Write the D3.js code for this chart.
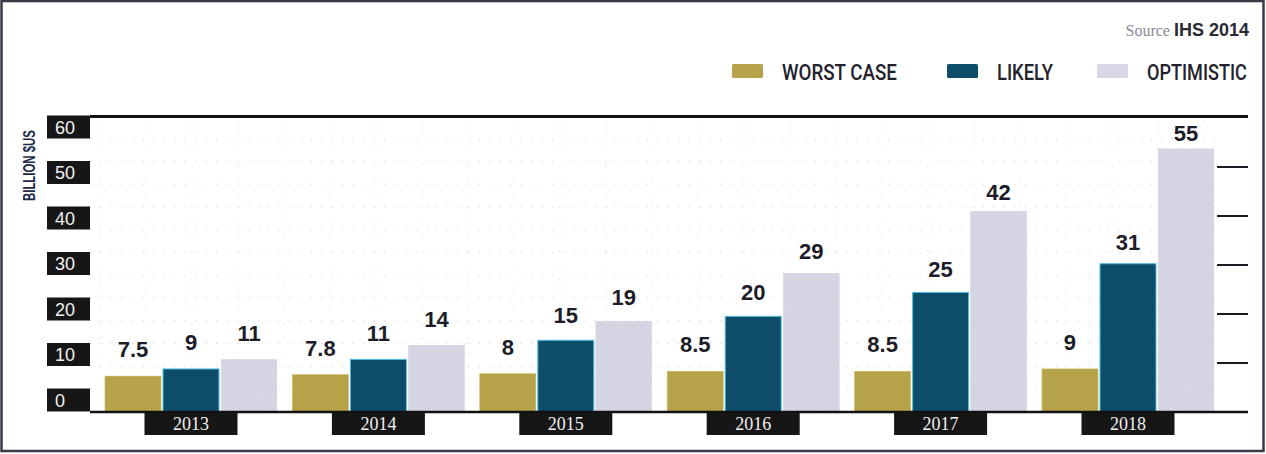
<!DOCTYPE html>
<html>
<head>
<meta charset="utf-8">
<script src="https://cdn.jsdelivr.net/npm/d3@7"></script>
<style>
  html, body { margin: 0; padding: 0; background: #ffffff; }
  svg { display: block; }
</style>
</head>
<body>
<svg id="chart" width="1266" height="454"></svg>
<script>
// Market size forecast, billion US$, by scenario
const years = ["2013", "2014", "2015", "2016", "2017", "2018"];
const seriesNames = ["WORST CASE", "LIKELY", "OPTIMISTIC"];
const worstCase = [7.5, 7.8, 8, 8.5, 8.5, 9];
const likely = [9, 11, 15, 20, 25, 31];
const optimistic = [11, 14, 19, 29, 42, 55];
const yTickValues = [0, 10, 20, 30, 40, 50, 60];
const sideTickValues = [10, 20, 30, 40, 50];
const yAxisTitle = "BILLION $US";
const sourceLabel = "Source";
const sourceName = "IHS 2014";

const seriesValues = [worstCase, likely, optimistic];
const colors = ["#b6a248", "#0e4d6a", "#d9d8e5"];
const strokes = ["#c9b65e", "#4fbfdf", "#dcdbe8"];

const svg = d3.select("#chart");

// squeeze a text horizontally so that it spans the given width
function condense(sel, width) {
  sel.each(function () {
    const w = this.getComputedTextLength();
    const sx = w > 0 ? Math.min(1, width / w) : 1;
    const x0 = +this.getAttribute("x") || 0;
    this.setAttribute("transform", `translate(${x0},0) scale(${sx},1) translate(${-x0},0)`);
  });
}

// grain for the light bars
const defs = svg.append("defs");
const noise = defs.append("filter").attr("id", "grain").attr("x", 0).attr("y", 0).attr("width", 1).attr("height", 1);
noise.append("feTurbulence").attr("type", "fractalNoise").attr("baseFrequency", 0.9).attr("numOctaves", 2).attr("seed", 3).attr("result", "n");
noise.append("feColorMatrix").attr("in", "n").attr("type", "matrix")
  .attr("values", "0 0 0 0 0.55  0 0 0 0 0.55  0 0 0 0 0.65  0 0 0 0.35 0").attr("result", "t");
noise.append("feComposite").attr("in", "t").attr("in2", "SourceGraphic").attr("operator", "in").attr("result", "tc");
const merge = noise.append("feMerge");
merge.append("feMergeNode").attr("in", "SourceGraphic");
merge.append("feMergeNode").attr("in", "tc");

// scales
const x = d3.scalePoint().domain(years).range([191, 1128]);
const xs = d3.scaleBand().domain(seriesNames).range([-86, 86]).paddingInner(0.035);
const y = d3.scaleLinear().domain([0, 60]).range([412, 125]);
const yLabel = d3.scaleLinear().domain([0, 60]).range([400, 127]);
const ySide = d3.scaleLinear().domain([0, 60]).range([412, 118]);

const plotLeft = 90, plotRight = 1248;

// frame
svg.append("rect").attr("x", 1.5).attr("y", 1).attr("width", 1262).attr("height", 450)
  .attr("fill", "none").attr("stroke", "#3b3b48").attr("stroke-width", 2.5);

// faint dotted grid
const gridRows = d3.range(0, 61, 5);
svg.append("g").selectAll("line").data(gridRows).join("line")
  .attr("x1", plotLeft).attr("x2", 1215)
  .attr("y1", d => yLabel(d) - 11).attr("y2", d => yLabel(d) - 11)
  .attr("stroke", "#c9c9d6").attr("stroke-width", 1).attr("stroke-dasharray", "1.5 9")
  .attr("opacity", 0.7);
const gridCols = d3.range(100, 1215, 46);
svg.append("g").selectAll("line").data(gridCols).join("line")
  .attr("x1", d => d).attr("x2", d => d).attr("y1", 120).attr("y2", 410)
  .attr("stroke", "#cfcfdb").attr("stroke-width", 1).attr("stroke-dasharray", "1.5 13")
  .attr("opacity", 0.6);

// top rule
svg.append("line").attr("x1", plotLeft).attr("x2", plotRight).attr("y1", 116.5).attr("y2", 116.5)
  .attr("stroke", "#111").attr("stroke-width", 3);

// bars
const groups = svg.append("g").selectAll("g").data(seriesNames).join("g");
groups.each(function (name, si) {
  d3.select(this).selectAll("rect").data(years.map((yr, i) => ({ yr, v: seriesValues[si][i] }))).join("rect")
    .attr("x", d => x(d.yr) + xs(name))
    .attr("y", d => y(d.v))
    .attr("width", xs.bandwidth())
    .attr("height", d => y(0) - y(d.v))
    .attr("fill", colors[si])
    .attr("stroke", strokes[si])
    .attr("stroke-width", si === 1 ? 1 : 0.6)
    .attr("filter", si === 2 ? "url(#grain)" : null);
});

// value labels
groups.each(function (name, si) {
  d3.select(this).selectAll("text").data(years.map((yr, i) => ({ yr, v: seriesValues[si][i] }))).join("text")
    .attr("x", d => x(d.yr) + xs(name) + xs.bandwidth() / 2)
    .attr("y", d => Math.min(yLabel(d.v) - 9, y(d.v) - 7))
    .attr("text-anchor", "middle")
    .attr("font-family", "'Liberation Sans', Arial, sans-serif")
    .attr("font-weight", "bold")
    .attr("font-size", 22)
    .attr("fill", "#1d1d28")
    .text(d => d.v);
});

// baseline
svg.append("line").attr("x1", plotLeft).attr("x2", plotRight).attr("y1", 412).attr("y2", 412)
  .attr("stroke", "#111").attr("stroke-width", 2.5);

// right-hand tick marks
svg.append("g").selectAll("line").data(sideTickValues).join("line")
  .attr("x1", 1217).attr("x2", plotRight)
  .attr("y1", d => ySide(d)).attr("y2", d => ySide(d))
  .attr("stroke", "#1a1a22").attr("stroke-width", 2);

// left value boxes
const yAxis = svg.append("g");
yAxis.selectAll("rect").data(yTickValues).join("rect")
  .attr("x", 47).attr("y", d => yLabel(d) - 11.5).attr("width", 43).attr("height", 23)
  .attr("fill", "#161616");
yAxis.selectAll("text").data(yTickValues).join("text")
  .attr("x", 55).attr("y", d => yLabel(d) + 6.5)
  .attr("font-family", "'Liberation Sans', Arial, sans-serif")
  .attr("font-size", 18)
  .attr("fill", "#f2f2f2")
  .text(d => d);

// axis title
svg.append("g").attr("transform", "translate(35,201) rotate(-90)")
  .append("text")
  .attr("x", 0).attr("y", 0)
  .attr("font-family", "'Liberation Sans', Arial, sans-serif")
  .attr("font-weight", "bold")
  .attr("font-size", 16)
  .attr("fill", "#1e2a4a")
  .text(yAxisTitle)
  .call(condense, 71);

// year boxes
const xAxis = svg.append("g");
xAxis.selectAll("rect").data(years).join("rect")
  .attr("x", d => x(d) - 46.5).attr("y", 413).attr("width", 93).attr("height", 22)
  .attr("fill", "#161616");
xAxis.selectAll("text").data(years).join("text")
  .attr("x", d => x(d)).attr("y", 430)
  .attr("text-anchor", "middle")
  .attr("font-family", "'Liberation Serif', 'DejaVu Serif', serif")
  .attr("font-size", 18)
  .attr("fill", "#f0f0f0")
  .text(d => d);

// legend
const legendX = [732, 947, 1097];
const legendTextX = [782, 997, 1147];
const legendTextW = [115, 56, 100];
const legend = svg.append("g");
legend.selectAll("rect").data(seriesNames).join("rect")
  .attr("x", (d, i) => legendX[i]).attr("y", 64).attr("width", 31).attr("height", 14)
  .attr("rx", 1.5)
  .attr("fill", (d, i) => i === 2 ? "#dcdbe9" : colors[i])
  .attr("filter", (d, i) => i === 2 ? "url(#grain)" : null);
legend.selectAll("text").data(seriesNames).join("text")
  .attr("x", (d, i) => legendTextX[i]).attr("y", 80)
  .attr("font-family", "Roboto, 'Liberation Sans', Arial, sans-serif")
  .attr("font-weight", 500)
  .attr("font-size", 22)
  .attr("fill", "#22222c")
  .text(d => d)
  .each(function (d, i) { d3.select(this).call(condense, legendTextW[i]); });

// source note
const src = svg.append("text").attr("x", 1249).attr("y", 36).attr("text-anchor", "end");
src.append("tspan")
  .attr("font-family", "'Liberation Serif', serif")
  .attr("font-size", 16)
  .attr("fill", "#8a8a96")
  .text(sourceLabel + "  ");
src.append("tspan")
  .attr("font-family", "'Liberation Sans', Arial, sans-serif")
  .attr("font-weight", "bold")
  .attr("font-size", 18)
  .attr("fill", "#2a2a36")
  .text(sourceName);
</script>
</body>
</html>
